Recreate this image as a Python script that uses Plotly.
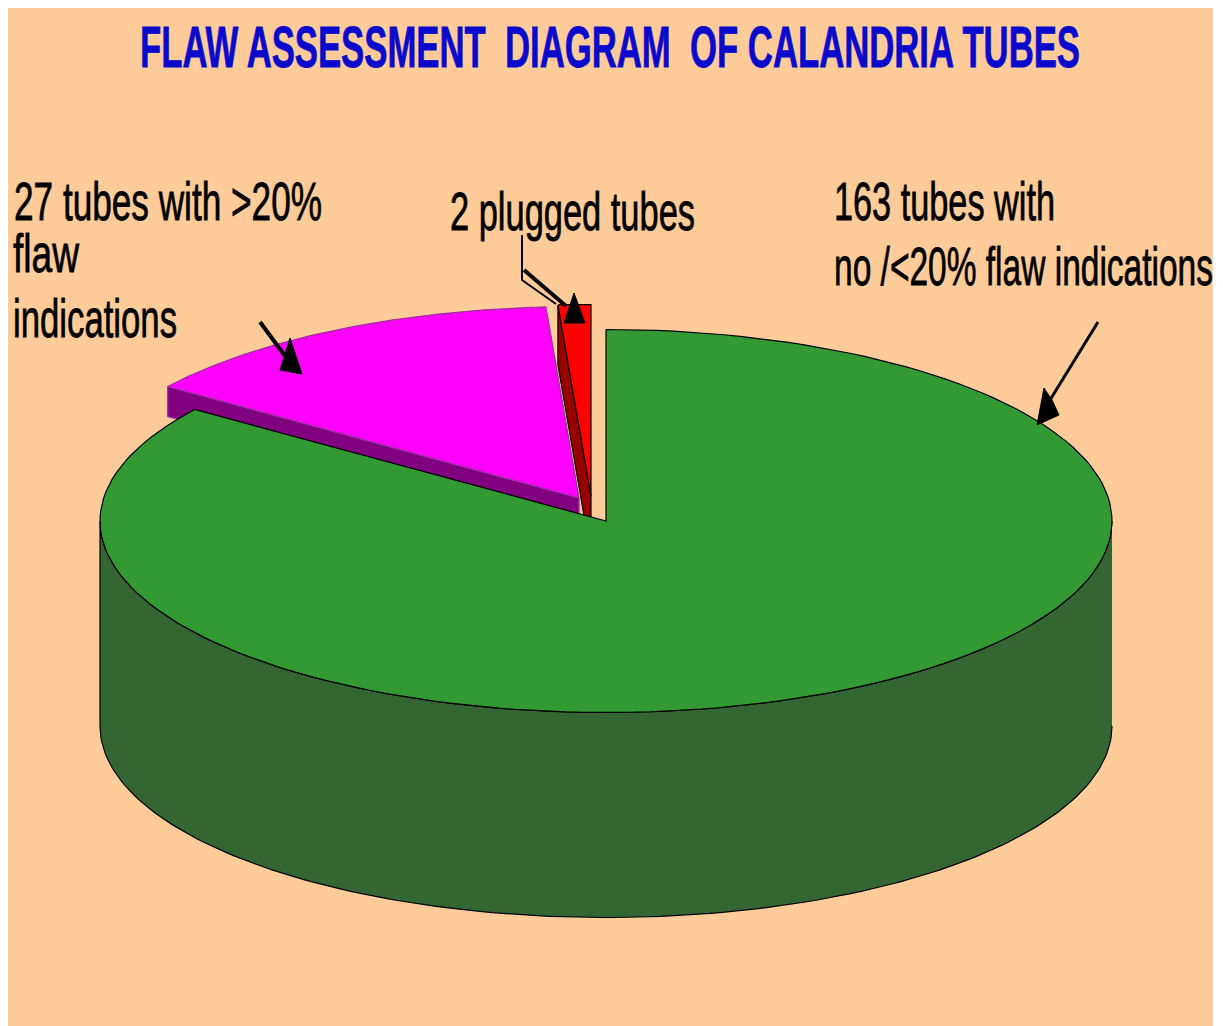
import json
import numpy as np
import plotly.graph_objects as go

# Data
categories = ["163 tubes with no/<20% flaw indications", "27 tubes with >20% flaw indications", "2 plugged tubes"]
tube_counts = [163, 27, 2]

# Styling / projection of the 3D pie
top_colors = ["#339933", "#FF00FF", "#FF0000"]
wall_colors = ["#336633", "#800080", "#990000"]
edge_colors = ["#000000", "#9A2FA0", "#000000"]
explode = [(0, 0), (-27, -23), (-15, -25)]
wall_depth = [205, 30, 60]
CX, CY, RX, RY = 606, 521, 506, 191.5


def arc(a0, a1, dx=0, dy=0, dz=0, n=160):
    t = np.radians(np.linspace(a0, a1, n))
    return CX + dx + RX * np.sin(t), CY + dy + dz - RY * np.cos(t)


total = sum(tube_counts)
spans = []
start = 0.0
for v in tube_counts:
    spans.append((start, start + v / total * 360))
    start += v / total * 360

fig = go.Figure()


def poly(x, y, fill, line, width=1.2):
    fig.add_trace(go.Scatter(x=list(x), y=list(y), mode="lines", fill="toself", fillcolor=fill,
                             line=dict(color=line, width=width), hoverinfo="skip", showlegend=False))


for i in (2, 1):
    a0, a1 = spans[i]
    dx, dy = explode[i]
    d = wall_depth[i]
    ax, ay = arc(a0, a1, dx, dy)
    cx, cy = CX + dx, CY + dy
    poly([ax[0], cx, cx, ax[0], ax[0]], [ay[0], cy, cy + d, ay[0] + d, ay[0]], wall_colors[i], edge_colors[i])
    poly(list(ax) + [cx, ax[0]], list(ay) + [cy, ay[0]], top_colors[i], edge_colors[i])

# green body
a0, a1 = spans[0]
d = wall_depth[0]
lx, ly = arc(90, 270)
poly(list(lx) + list(lx[::-1]), list(ly) + list(ly[::-1] + d), wall_colors[0], "#000000")
ax, ay = arc(a0, a1)
poly(list(ax) + [CX, ax[0]], list(ay) + [CY, ay[0]], top_colors[0], "#000000")

# Text
title = "FLAW ASSESSMENT  DIAGRAM  OF CALANDRIA TUBES"
FONT = "Liberation Sans, Arial"
labels = [
    ("27 tubes with >20%", 12, 200.5, 308),
    ("flaw", 11, 252.5, 66),
    ("indications", 11, 317.5, 164),
    ("2 plugged tubes", 448, 210.5, 245),
    ("163 tubes with", 832, 200.5, 221),
    ("no /<20% flaw indications", 832, 265.5, 379),
]
ann = [dict(x=138, y=46, text=title, showarrow=False, xanchor="left", yanchor="middle", align="left",
            font=dict(family=FONT, size=58, color="#0A0ACC", weight=700))]
for t, x, y, _ in labels:
    ann.append(dict(x=x, y=y, text=t, showarrow=False, xanchor="left", yanchor="middle", align="left",
                    font=dict(family=FONT, size=54, color="#000000")))
fig.update_layout(annotations=ann)

black = dict(color="#000", width=1)
# pointer of the green slice
fig.add_shape(type="line", x0=1098, y0=322, x1=1050, y1=400, line=dict(color="#000", width=3))
fig.add_shape(type="path", path="M1037,425 L1044,388 L1052,400 L1059,415 Z", fillcolor="#000", line=black)
# pointer of the magenta slice
fig.add_shape(type="line", x0=260, y0=322, x1=288, y1=360, line=dict(color="#000", width=4))
fig.add_shape(type="path", path="M302,374 L290,338 L285,354 L280,370 Z", fillcolor="#000", line=black)
# pointer of the red slice
fig.add_shape(type="path", path="M522,235 L522,280 L556,304", line=dict(color="#000", width=2))
fig.add_shape(type="line", x0=524, y0=270, x1=566, y1=306, line=dict(color="#000", width=4))
fig.add_shape(type="path", path="M564,323 L574,293 L585,323 Z", fillcolor="#000", line=black)

fig.update_layout(
    width=1205, height=1018, margin=dict(l=0, r=0, t=0, b=0), autosize=False,
    paper_bgcolor="#FFCC99", plot_bgcolor="#FFCC99", showlegend=False,
    xaxis=dict(range=[8, 1213], visible=False, fixedrange=True),
    yaxis=dict(range=[1026, 8], visible=False, fixedrange=True),
)

# The reference's lettering is tightly squeezed; fit each line to its measured width.
widths = {t: w for t, _, _, w in labels}
widths[title] = 940
js = "var W=%s;var g=document.getElementById('{plot_id}');" % json.dumps(widths)
js += ("g.querySelectorAll('.annotation-text').forEach(function(e){"
       "var t=e.textContent.replace(/\\s+/g,' ').trim();"
       "Object.keys(W).forEach(function(k){if(k.replace(/\\s+/g,' ')===t){"
       "e.setAttribute('textLength',W[k]);e.setAttribute('lengthAdjust','spacingAndGlyphs');"
       "e.style.stroke=e.style.fill;e.style.strokeWidth='0.8px';"
       "var p=e.closest('.annotation');if(p){p.querySelectorAll('rect').forEach(function(r){"
       "r.setAttribute('width',W[k]);});}"
       "}});});")
fig.write_html("out.html", config=dict(displayModeBar=False), post_script=js)
